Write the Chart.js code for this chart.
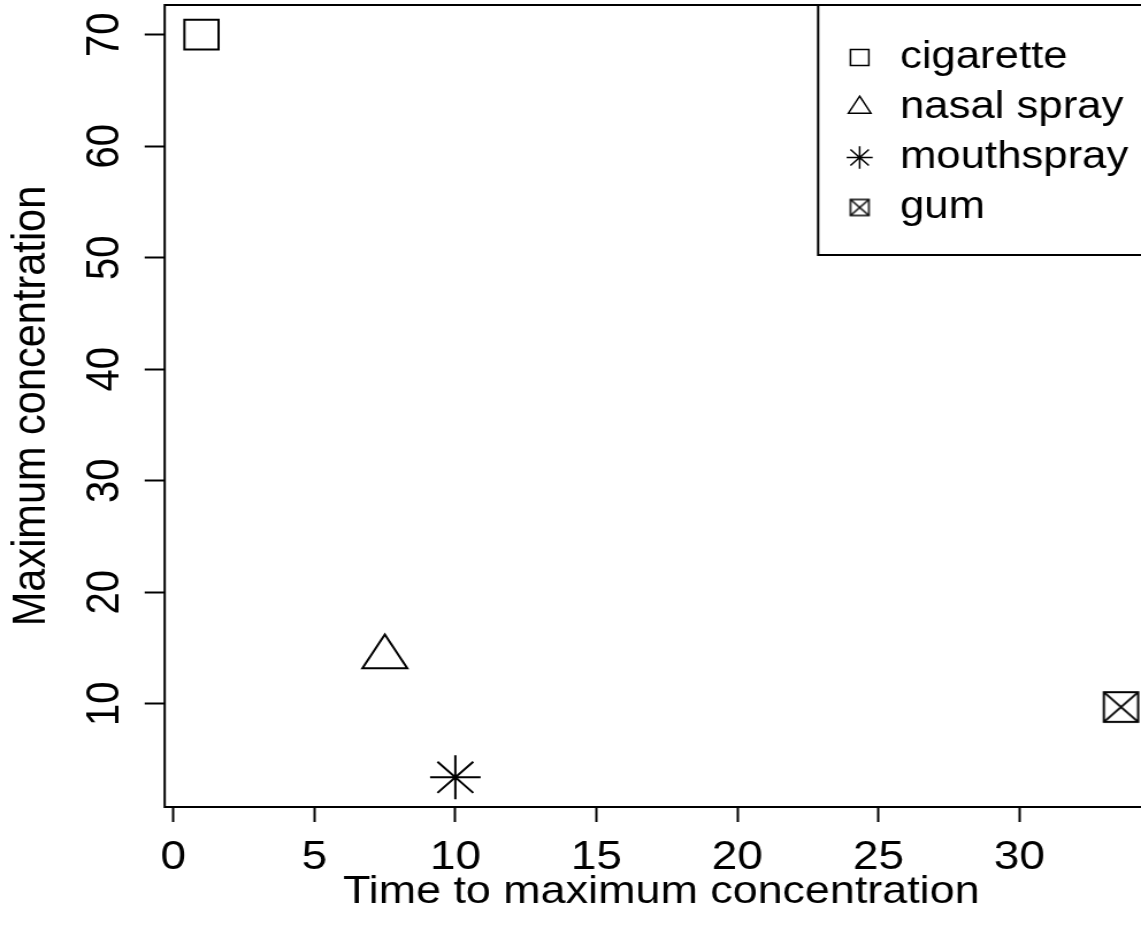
<!DOCTYPE html>
<html>
<head>
<meta charset="utf-8">
<title>Maximum concentration vs time to maximum concentration</title>
<script src="https://cdn.jsdelivr.net/npm/chart.js@4/dist/chart.umd.min.js"></script>
<style>
  html, body { margin: 0; padding: 0; background: #fff; overflow: hidden; }
  #plot { display: block; }
</style>
</head>
<body>
<!-- the drawing is rendered narrower and widened by CSS, giving the wide glyphs and markers -->
<canvas id="plot" width="1012" height="941" style="width:1163.8px;height:941px;"></canvas>
<script>
// ---- data ----
const products   = ['cigarette', 'nasal spray', 'mouthspray', 'gum'];
const timeToMax  = [1, 7.5, 10, 33.6];
const maxConc    = [70, 14.2, 3.4, 9.7];
const xTickValues = [0, 5, 10, 15, 20, 25, 30];
const yTickValues = [10, 20, 30, 40, 50, 60, 70];
const xTitle = 'Time to maximum concentration';
const yTitle = 'Maximum concentration';

// axis limits: data range widened by 4% on each side
function paddedRange(values) {
  const lo = Math.min(...values), hi = Math.max(...values), d = (hi - lo) * 0.04;
  return [lo - d, hi + d];
}
const [xMin, xMax] = paddedRange(timeToMax);
const [yMin, yMax] = paddedRange(maxConc);

// open square with both diagonals drawn through it
function boxCross(side, lw) {
  const pad = Math.ceil(lw) + 1;
  const n = Math.ceil(side + 2 * pad);
  const c = document.createElement('canvas');
  c.width = n; c.height = n;
  const g = c.getContext('2d');
  const o = (n - side) / 2;
  g.strokeStyle = '#000';
  g.lineWidth = lw;
  g.strokeRect(o, o, side, side);
  g.beginPath();
  g.moveTo(o, o); g.lineTo(o + side, o + side);
  g.moveTo(o + side, o); g.lineTo(o, o + side);
  g.stroke();
  return c;
}

const plotMarkers   = ['rect', 'triangle', 'star', boxCross(29.7, 2)];
const plotRadii     = [21, 22.5, 22, 21];
const legendMarkers = ['rect', 'triangle', 'star', boxCross(16, 1.5)];

const FONT = '"Liberation Sans", Arial, Helvetica, sans-serif';
Chart.defaults.color = '#000';
Chart.defaults.font.family = FONT;

// frame around the plotting region
const frame = {
  id: 'frame',
  beforeDatasetsDraw(chart) {
    const { ctx, chartArea: a } = chart;
    ctx.save();
    ctx.strokeStyle = '#000';
    ctx.lineWidth = 2;
    ctx.strokeRect(a.left, a.top, a.right - a.left, a.bottom - a.top);
    ctx.restore();
  }
};

// legend placed in the upper right corner, inside a box
const legendBox = {
  id: 'legendBox',
  afterLayout(chart) {
    const lg = chart.legend;
    lg.left = 719.4; lg.top = 26.5;
    lg.width = 400; lg.height = 400;
    lg.right = lg.left + 400; lg.bottom = lg.top + 400;
  },
  afterDatasetsDraw(chart) {
    const { ctx, chartArea: a } = chart;
    ctx.save();
    ctx.strokeStyle = '#000';
    ctx.lineWidth = 2;
    ctx.strokeRect(711.3, a.top, chart.width + 20 - 711.3, 255 - a.top);
    ctx.restore();
  }
};

// fixed axis sizes, no extra room for overhanging end labels
function fixSize(prop, value) {
  return function (scale) {
    scale[prop] = value;
    scale.paddingLeft = 0; scale.paddingRight = 0;
    scale.paddingTop = 0; scale.paddingBottom = 0;
  };
}

const datasets = products.map((name, i) => ({
  label: name,
  data: [{ x: timeToMax[i], y: maxConc[i] }],
  pointStyle: plotMarkers[i],
  pointRadius: plotRadii[i],
  pointHoverRadius: plotRadii[i],
  pointBorderColor: '#000',
  pointBackgroundColor: 'rgba(0,0,0,0)',
  pointBorderWidth: 2,
  borderColor: '#000',
  backgroundColor: 'rgba(0,0,0,0)',
  showLine: false,
  clip: false
}));

new Chart(document.getElementById('plot'), {
  type: 'scatter',
  data: { datasets },
  plugins: [frame, legendBox],
  options: {
    responsive: false,
    animation: false,
    devicePixelRatio: 1,
    events: [],
    layout: { autoPadding: false, padding: { left: 0, top: 5, right: 5.4, bottom: 0 } },
    scales: {
      x: {
        type: 'linear',
        min: xMin, max: xMax,
        afterBuildTicks(scale) { scale.ticks = xTickValues.map(v => ({ value: v })); },
        afterFit: fixSize('height', 134),
        grid: { drawOnChartArea: false, drawTicks: true, tickLength: 15, tickWidth: 2, tickColor: '#000' },
        border: { display: false },
        ticks: { autoSkip: false, maxRotation: 0, minRotation: 0, padding: 12,
                 color: '#000', font: { size: 40, family: FONT } },
        title: { display: true, text: xTitle, color: '#000',
                 font: { size: 39, family: FONT }, padding: { top: 0, bottom: 25.5 } }
      },
      y: {
        type: 'linear',
        min: yMin, max: yMax,
        afterBuildTicks(scale) { scale.ticks = yTickValues.map(v => ({ value: v })); },
        afterFit: fixSize('width', 143.2),
        grid: { drawOnChartArea: false, drawTicks: true, tickLength: 17.4, tickWidth: 2, tickColor: '#000' },
        border: { display: false },
        ticks: { autoSkip: false, minRotation: 90, maxRotation: 90, crossAlign: 'center', padding: 11.5,
                 color: '#000', font: { size: 40, family: FONT } },
        title: { display: true, text: yTitle, color: '#000',
                 font: { size: 41.5, family: FONT }, padding: { top: 2.5, bottom: 0 } }
      }
    },
    plugins: {
      tooltip: { enabled: false },
      legend: {
        display: true,
        position: 'chartArea',
        align: 'start',
        labels: {
          usePointStyle: true,
          boxWidth: 32,
          boxHeight: 16,
          padding: 12,
          color: '#000',
          font: { size: 38, family: FONT },
          generateLabels(chart) {
            return chart.data.datasets.map((ds, i) => ({
              text: ds.label,
              pointStyle: legendMarkers[i],
              rotation: 0,
              fillStyle: 'rgba(0,0,0,0)',
              strokeStyle: '#000',
              lineWidth: 1.5,
              fontColor: '#000',
              hidden: false,
              datasetIndex: i
            }));
          }
        }
      }
    }
  }
});
</script>
</body>
</html>
